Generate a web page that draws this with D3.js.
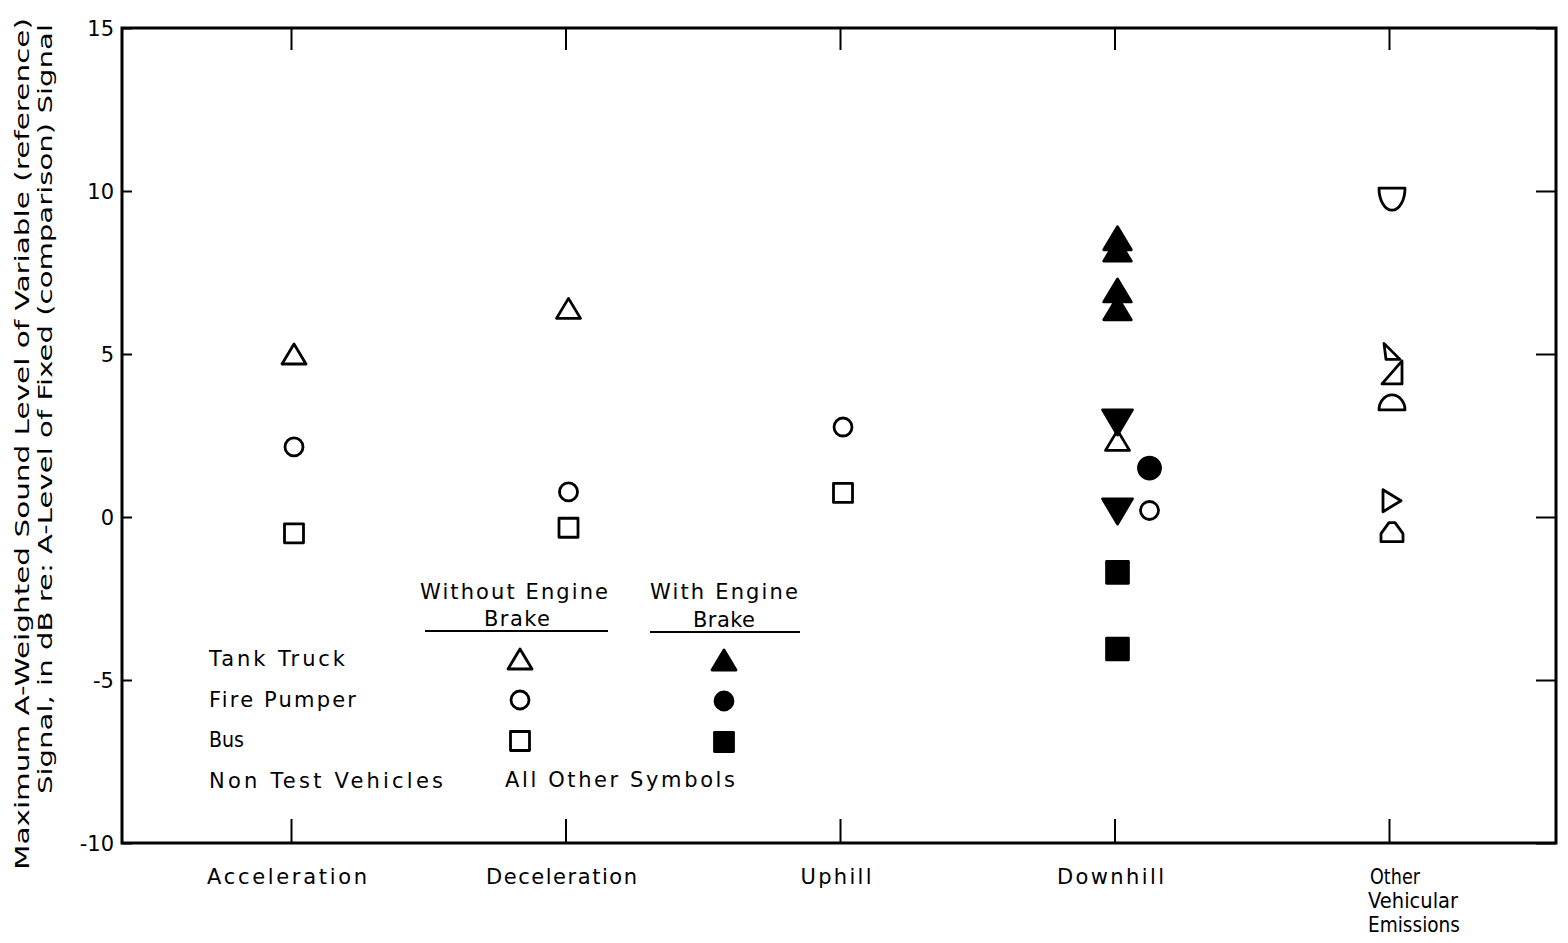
<!DOCTYPE html>
<html>
<head>
<meta charset="utf-8">
<script src="https://cdn.jsdelivr.net/npm/d3@7"></script>
<style>
  body { margin: 0; background: #fff; }
  text { font-family: "DejaVu Sans", "Lato", sans-serif; fill: #000; }
</style>
</head>
<body>
<div id="canvas"></div>
<script>
"use strict"

// categories along the bottom
let categories = ["Acceleration", "Deceleration", "Uphill", "Downhill", "Other Vehicular Emissions"]
let categoryLines = [["Acceleration"], ["Deceleration"], ["Uphill"], ["Downhill"], ["Other", "Vehicular", "Emissions"]]
let yTicks = [-10, -5, 0, 5, 10, 15]

// [category, dB difference, beside (0 = on the tick, 1 = next to it)]
let tankTruckOpen = [["Acceleration", 5.0, 0], ["Deceleration", 6.4, 0], ["Downhill", 2.35, 0]]
let tankTruckBrake = [["Downhill", 8.55, 0], ["Downhill", 8.2, 0], ["Downhill", 6.95, 0], ["Downhill", 6.4, 0]]
let firePumperOpen = [["Acceleration", 2.15, 0], ["Deceleration", 0.77, 0], ["Uphill", 2.76, 0], ["Downhill", 0.2, 1]]
let firePumperBrake = [["Downhill", 1.5, 1]]
let busOpen = [["Acceleration", -0.5, 0], ["Deceleration", -0.33, 0], ["Uphill", 0.74, 0]]
let busBrake = [["Downhill", -1.7, 0], ["Downhill", -4.05, 0]]
// non test vehicles: [category, value, beside, symbol, filled]
let nonTestVehicles = [
    ["Downhill", 2.9, 0, "triDown", true],
    ["Downhill", 0.17, 0, "triDown", true],
    ["Other Vehicular Emissions", 9.75, 0, "bowl", false],
    ["Other Vehicular Emissions", 5.05, 0, "wedgeA", false],
    ["Other Vehicular Emissions", 4.45, 0, "wedgeB", false],
    ["Other Vehicular Emissions", 3.5, 0, "dome", false],
    ["Other Vehicular Emissions", 0.5, 0, "triRight", false],
    ["Other Vehicular Emissions", -0.45, 0, "house", false]
]

let svg = d3.select("#canvas")
    .append("svg")
    .attr("width", 1568)
    .attr("height", 943)

let plotLeft = 122, plotRight = 1556, plotTop = 28, plotBottom = 843

let x = d3.scalePoint().domain(categories).range([291, 1389])
let y = d3.scaleLinear().domain([-10, 15]).range([plotBottom, plotTop])
let beside = d3.scaleOrdinal().domain([0, 1]).range([3, 35])

// symbol shapes, centred on 0,0
function shapePath(kind, big) {
    let k = big ? 1.15 : 1
    switch (kind) {
        case "triUp": return `M0,${-10 * k}L${12 * k},${10 * k}L${-12 * k},${10 * k}Z`
        case "triDown": return `M0,${11 * k}L${13 * k},${-11 * k}L${-13 * k},${-11 * k}Z`
        case "square": return `M${-9.5 * k},${-9.5 * k}h${19 * k}v${19 * k}h${-19 * k}Z`
        case "bowl": return "M-13,-11L13,-11A13,22 0 0 1 -13,-11Z"
        case "dome": return "M-13,7L13,7A13,15 0 0 0 -13,7Z"
        case "triRight": return "M-9,-11L9,0L-9,11Z"
        case "wedgeA": return "M-8,-9L8,7L-6,7Z"
        case "wedgeB": return "M10,-11L10,12L-10,12Z"
        case "house": return "M-11,10L11,10L11,2L3,-9L-3,-9L-11,2Z"
    }
}

function drawMarker(g, kind, filled, cx, cy, big) {
    if (kind === "circle") {
        g.append("circle")
            .attr("cx", cx)
            .attr("cy", cy)
            .attr("r", big ? 11 : 9)
            .attr("fill", filled ? "#000" : "none")
            .attr("stroke", "#000")
            .attr("stroke-width", 2.8)
    } else {
        g.append("path")
            .attr("d", shapePath(kind, big))
            .attr("transform", `translate(${cx},${cy})`)
            .attr("fill", filled ? "#000" : "none")
            .attr("stroke", "#000")
            .attr("stroke-width", 2.8)
            .attr("stroke-linejoin", "round")
    }
}

// text helper: fixed width so the spaced lettering of the original is kept
function label(g, str, xPos, yPos, width, anchor) {
    let t = g.append("text")
        .attr("x", xPos)
        .attr("y", yPos)
        .attr("text-anchor", anchor || "start")
        .style("font-size", "21px")
        .text(str)
    let natural = t.node().getComputedTextLength()
    t.attr("textLength", width)
        .attr("lengthAdjust", natural > width ? "spacingAndGlyphs" : "spacing")
    return t
}

// frame
svg.append("rect")
    .attr("x", plotLeft)
    .attr("y", plotTop)
    .attr("width", plotRight - plotLeft)
    .attr("height", plotBottom - plotTop)
    .attr("fill", "none")
    .attr("stroke", "#000")
    .attr("stroke-width", 3)

// left axis with inward ticks
let leftAxis = svg.append("g")
    .attr("transform", `translate(${plotLeft},0)`)
    .call(d3.axisLeft(y).tickValues(yTicks).tickSizeInner(-10).tickSizeOuter(0).tickPadding(8)
        .tickFormat(d => d < 0 ? "-" + Math.abs(d) : d))
leftAxis.selectAll("text").style("font-size", "21px").attr("dy", "0.36em")

let rightAxis = svg.append("g")
    .attr("transform", `translate(${plotRight},0)`)
    .call(d3.axisRight(y).tickValues(yTicks).tickSizeInner(-20).tickSizeOuter(0).tickFormat(""))

let topAxis = svg.append("g")
    .attr("transform", `translate(0,${plotTop})`)
    .call(d3.axisTop(x).tickSizeInner(-22).tickSizeOuter(0).tickFormat(""))

let bottomAxis = svg.append("g")
    .attr("transform", `translate(0,${plotBottom})`)
    .call(d3.axisBottom(x).tickSizeInner(-24).tickSizeOuter(0).tickFormat(""))

svg.selectAll(".domain").remove()
svg.selectAll(".tick line").attr("stroke", "#000").attr("stroke-width", 2)

// category labels
let categoryWidths = [[160], [151], [71], [107], [50, 90, 92]]
categories.forEach((c, i) => {
    let lines = categoryLines[i]
    if (lines.length === 1) {
        label(svg, lines[0], x(c) - 4, 884, categoryWidths[i][0], "middle")
    } else {
        lines.forEach((l, j) => {
            label(svg, l, x(c) - (j === 0 ? 19 : 21), 884 + j * 24, categoryWidths[i][j], "start")
        })
    }
})

// y axis title, two lines
let yTitle = ["Maximum A-Weighted Sound Level of Variable (reference)",
    "Signal, in dB re: A-Level of Fixed (comparison) Signal"]
yTitle.forEach((line, i) => {
    svg.append("text")
        .attr("transform", `translate(${29 + i * 23},${i === 0 ? 18 : 24}) rotate(-90)`)
        .attr("text-anchor", "end")
        .attr("textLength", i === 0 ? 852 : 770)
        .attr("lengthAdjust", "spacingAndGlyphs")
        .style("font-size", "19px")
        .text(line)
})

// the points
let marks = svg.append("g")
let seriesList = [
    [tankTruckOpen, "triUp", false],
    [tankTruckBrake, "triUp", true],
    [firePumperOpen, "circle", false],
    [firePumperBrake, "circle", true],
    [busOpen, "square", false],
    [busBrake, "square", true]
]
seriesList.forEach(s => {
    s[0].forEach(d => {
        drawMarker(marks, s[1], s[2], x(d[0]) + beside(d[2]), y(d[1]), s[2])
    })
})
nonTestVehicles.forEach(d => {
    drawMarker(marks, d[3], d[4], x(d[0]) + beside(d[2]), y(d[1]), d[4])
})

// legend
let legend = svg.append("g")
let legendRows = ["Tank Truck", "Fire Pumper", "Bus", "Non Test Vehicles"]
let legendRowWidths = [136, 147, 35, 234]
let legendShapes = ["triUp", "circle", "square"]

label(legend, "Without Engine", 514, 599, 188, "middle")
label(legend, "Brake", 517, 626, 66, "middle")
label(legend, "With Engine", 724, 599, 148, "middle")
label(legend, "Brake", 724, 627, 62, "middle")
legend.append("line").attr("x1", 425).attr("x2", 608).attr("y1", 631).attr("y2", 631)
    .attr("stroke", "#000").attr("stroke-width", 2)
legend.append("line").attr("x1", 650).attr("x2", 800).attr("y1", 632).attr("y2", 632)
    .attr("stroke", "#000").attr("stroke-width", 2)

legendRows.forEach((r, i) => {
    label(legend, r, 209, 666 + i * 40.5, legendRowWidths[i], "start")
})
legendShapes.forEach((s, i) => {
    drawMarker(legend, s, false, 520, 659 + i * 41, false)
    drawMarker(legend, s, true, 724, 660 + i * 41, false)
})
label(legend, "All Other Symbols", 505, 787, 230, "start")
</script>
</body>
</html>
